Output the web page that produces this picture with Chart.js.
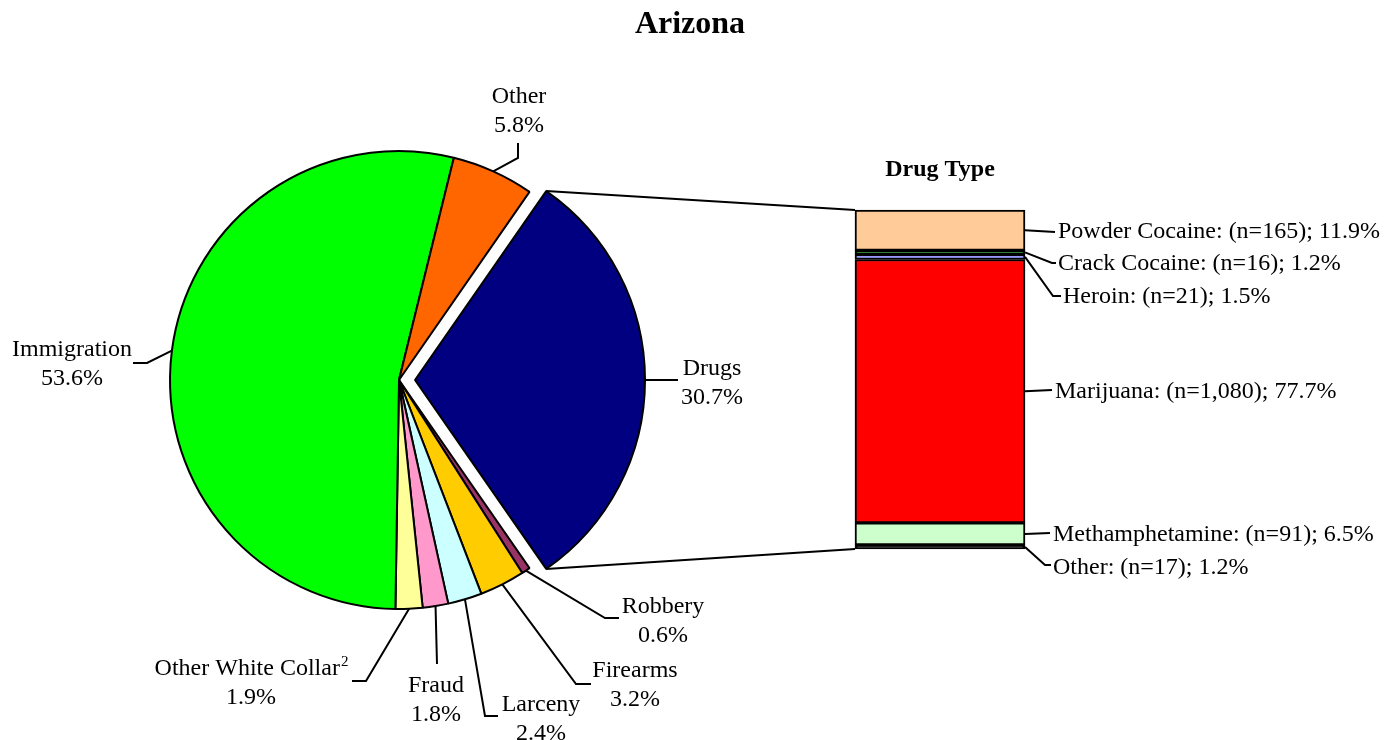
<!DOCTYPE html>
<html><head><meta charset="utf-8">
<script src="https://cdn.jsdelivr.net/npm/chart.js@4.4.0/dist/chart.umd.min.js"></script>
<style>
html,body{margin:0;padding:0;background:#fff;}
#wrap{position:relative;width:1395px;height:740px;}
canvas{position:absolute;left:0;top:0;}
#bar{pointer-events:none;}
</style>
</head><body>
<div id="wrap"><canvas id="pie" width="1395" height="740"></canvas><canvas id="bar" width="1395" height="740"></canvas></div>
<script>
// ---- data ----
const chartTitle = 'Arizona';
const categories = ['Drugs', 'Robbery', 'Firearms', 'Larceny', 'Fraud', 'Other White Collar', 'Immigration', 'Other'];
const shares = [30.7, 0.6, 3.2, 2.4, 1.8, 1.9, 53.6, 5.8];
const pieColors = ['#000080', '#993366', '#FFCC00', '#CCFFFF', '#FF99CC', '#FFFF99', '#00FF00', '#FF6600'];
const superscripts = {'Other White Collar': '2'};

const drugTitle = 'Drug Type';
const drugTypes = ['Powder Cocaine', 'Crack Cocaine', 'Heroin', 'Marijuana', 'Methamphetamine', 'Other'];
const drugCounts = [165, 16, 21, 1080, 91, 17];
const drugShares = [11.9, 1.2, 1.5, 77.7, 6.5, 1.2];
const drugColors = ['#FFCC99', '#006600', '#9999FF', '#FF0000', '#CCFFCC', '#000000'];

// ---- layout (label placement) ----
const FONT = "'Liberation Serif', 'Times New Roman', serif";
const pieLayout = {
  'Drugs':              {tx: 712, ty: 375, path: [[678, 380]]},
  'Robbery':            {tx: 663, ty: 613, path: [[605, 618], [619, 618]]},
  'Firearms':           {tx: 635, ty: 677, path: [[576, 684], [591, 684]]},
  'Larceny':            {tx: 541, ty: 711, path: [[485, 716], [498, 716]]},
  'Fraud':              {tx: 436, ty: 692, path: [[437, 664]]},
  'Other White Collar': {tx: 251, ty: 675, path: [[366, 681], [352, 681]]},
  'Immigration':        {tx: 72,  ty: 356, path: [[147, 363], [133, 363]]},
  'Other':              {tx: 519, ty: 103, path: [[518, 158], [518, 143]]}
};
const drugLayout = {
  'Powder Cocaine':  {tx: 1058, ty: 238, path: [[1055, 232]]},
  'Crack Cocaine':   {tx: 1058, ty: 270, path: [[1052, 263], [1056, 263]]},
  'Heroin':          {tx: 1063, ty: 303, path: [[1053, 296], [1061, 296]]},
  'Marijuana':       {tx: 1055, ty: 398, path: [[1052, 390]]},
  'Methamphetamine': {tx: 1053, ty: 541, path: [[1050, 533]]},
  'Other':           {tx: 1053, ty: 574, path: [[1045, 565], [1051, 565]]}
};
const explodeOffset = 64;   // Chart.js arc offset (translates by offset/4)
const LINE_H = 29;

function fmt(n) { return n.toLocaleString('en-US'); }

function arcGeom(arc) {
  const o = (arc.options.offset || 0) / 4;
  const half = (arc.startAngle + arc.endAngle) / 2;
  const circ = arc.endAngle - arc.startAngle;
  const fix = 1 - Math.sin(Math.min(Math.PI, circ));
  return {cx: arc.x + Math.cos(half) * o, cy: arc.y + Math.sin(half) * o, r: arc.outerRadius + o * fix, half};
}

function polyline(ctx, pts) {
  ctx.beginPath();
  ctx.moveTo(pts[0][0], pts[0][1]);
  for (let i = 1; i < pts.length; i++) ctx.lineTo(pts[i][0], pts[i][1]);
  ctx.stroke();
}

const pieLabels = {
  id: 'pieLabels',
  afterDraw(chart) {
    const ctx = chart.ctx;
    ctx.save();
    ctx.fillStyle = '#000';
    ctx.textAlign = 'center';
    ctx.textBaseline = 'alphabetic';
    ctx.font = 'bold 32px ' + FONT;
    ctx.fillText(chartTitle, 690, 33);
    const meta = chart.getDatasetMeta(0);
    ctx.strokeStyle = '#000';
    ctx.lineWidth = 2;
    ctx.lineJoin = 'miter';
    categories.forEach((name, i) => {
      const lay = pieLayout[name];
      const g = arcGeom(meta.data[i]);
      const anchor = [g.cx + Math.cos(g.half) * g.r, g.cy + Math.sin(g.half) * g.r];
      polyline(ctx, [anchor].concat(lay.path));
      ctx.font = '24px ' + FONT;
      const sup = superscripts[name];
      if (sup) {
        const w1 = ctx.measureText(name).width;
        ctx.font = '15px ' + FONT;
        const ws = ctx.measureText(sup).width;
        const left = lay.tx - (w1 + ws) / 2;
        ctx.textAlign = 'left';
        ctx.font = '24px ' + FONT;
        ctx.fillText(name, left, lay.ty);
        ctx.font = '15px ' + FONT;
        ctx.fillText(sup, left + w1 + 1, lay.ty - 9);
        ctx.textAlign = 'center';
        ctx.font = '24px ' + FONT;
      } else {
        ctx.fillText(name, lay.tx, lay.ty);
      }
      ctx.fillText(shares[i].toFixed(1) + '%', lay.tx, lay.ty + LINE_H);
    });
    ctx.restore();
  }
};

const pieChart = new Chart(document.getElementById('pie'), {
  type: 'pie',
  data: {
    labels: categories,
    datasets: [{
      data: shares,
      backgroundColor: pieColors,
      borderColor: '#000',
      borderWidth: 2,
      offset: categories.map((c, i) => i === 0 ? explodeOffset : 0),
      hoverOffset: 0
    }]
  },
  options: {
    responsive: false,
    devicePixelRatio: 1,
    animation: false,
    radius: 229,
    rotation: 90 - shares[0] * 3.6 / 2,
    layout: {padding: {left: 150, right: 747, top: 131, bottom: 111}},
    plugins: {legend: {display: false}, tooltip: {enabled: false}, title: {display: false}}
  },
  plugins: [pieLabels]
});

const barLabels = {
  id: 'barLabels',
  afterDraw(chart) {
    const ctx = chart.ctx;
    ctx.save();
    ctx.strokeStyle = '#000';
    ctx.fillStyle = '#000';
    ctx.lineWidth = 2;
    // connectors from exploded slice to bar
    const arc = pieChart.getDatasetMeta(0).data[0];
    const g = arcGeom(arc);
    const first = chart.getDatasetMeta(0).data[0];
    const last = chart.getDatasetMeta(drugTypes.length - 1).data[0];
    const barLeft = first.x - first.width / 2;
    const barTop = Math.min(first.y, first.base);
    const barBottom = Math.max(last.y, last.base);
    polyline(ctx, [[g.cx + Math.cos(arc.startAngle) * g.r, g.cy + Math.sin(arc.startAngle) * g.r], [barLeft, barTop]]);
    polyline(ctx, [[g.cx + Math.cos(arc.endAngle) * g.r, g.cy + Math.sin(arc.endAngle) * g.r], [barLeft, barBottom]]);
    // title
    ctx.textAlign = 'center';
    ctx.font = 'bold 24px ' + FONT;
    ctx.fillText(drugTitle, first.x, 176);
    // labels
    ctx.textAlign = 'left';
    ctx.font = '24px ' + FONT;
    drugTypes.forEach((name, i) => {
      const el = chart.getDatasetMeta(i).data[0];
      const lay = drugLayout[name];
      const anchor = [el.x + el.width / 2, (el.y + el.base) / 2];
      polyline(ctx, [anchor].concat(lay.path));
      ctx.fillText(name + ': (n=' + fmt(drugCounts[i]) + '); ' + drugShares[i].toFixed(1) + '%', lay.tx, lay.ty);
    });
    ctx.restore();
  }
};

new Chart(document.getElementById('bar'), {
  type: 'bar',
  data: {
    labels: [''],
    datasets: drugTypes.map((name, i) => ({
      label: name,
      data: [drugShares[i]],
      backgroundColor: drugColors[i],
      borderColor: '#000',
      borderWidth: 2,
      borderSkipped: false,
      barPercentage: 1,
      categoryPercentage: 1,
      clip: false
    }))
  },
  options: {
    responsive: false,
    devicePixelRatio: 1,
    animation: false,
    layout: {padding: {left: 855, right: 370, top: 210, bottom: 191}},
    scales: {
      x: {display: false, stacked: true},
      y: {display: false, stacked: true, min: 0, max: 100, reverse: true}
    },
    plugins: {legend: {display: false}, tooltip: {enabled: false}, title: {display: false}}
  },
  plugins: [barLabels]
});
</script>
</body></html>
